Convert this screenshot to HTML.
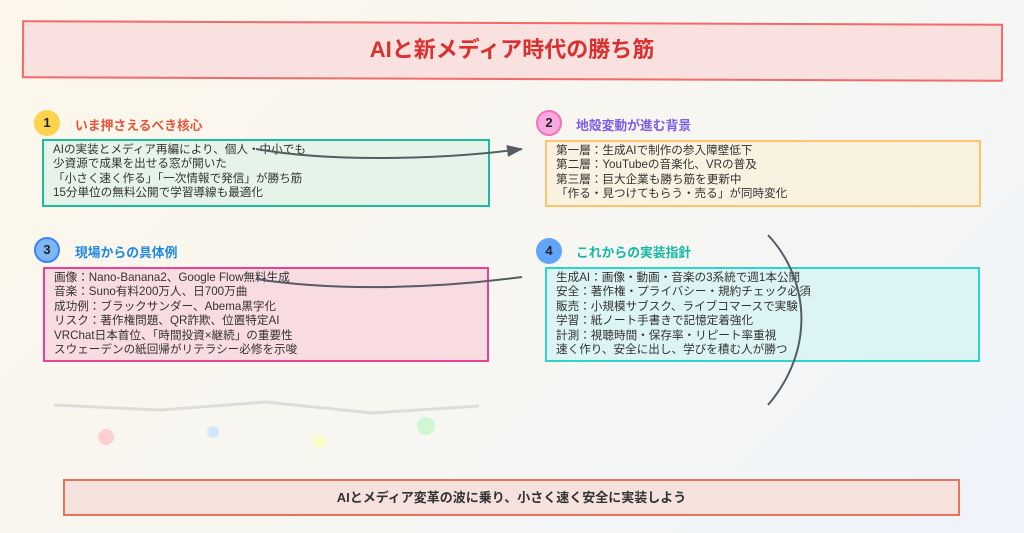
<!DOCTYPE html>
<html><head><meta charset="utf-8"><style>
*{margin:0;padding:0;box-sizing:border-box}
body{width:1024px;height:533px;overflow:hidden;position:relative;font-family:"Liberation Sans","Noto Sans CJK JP",sans-serif;background:linear-gradient(135deg,#fcf7ea 0%,#f7f6f1 50%,#eff4fb 100%)}
.a{position:absolute}
.box{position:absolute;border:2px solid;padding:2px 9px;font-size:11.6px;line-height:14.4px;color:#333}
.c{position:absolute;width:26px;height:26px;border-radius:50%;font-weight:bold;font-size:13px;text-align:center;line-height:26px;color:#222}
.h{position:absolute;font-weight:bold;font-size:12.8px}
</style></head><body>
<div class="a" style="left:22px;top:22px;width:981px;height:58px;border:2px solid #f26b6b;background:#f9e1df;transform:rotate(0.2deg)"></div>
<div class="a" style="left:0;top:32px;width:1024px;text-align:center;font-size:22px;font-weight:bold;color:#d93030">AIと新メディア時代の勝ち筋</div>

<div class="c" style="left:34px;top:110px;background:#fcd34d">1</div>
<div class="h" style="left:75px;top:115px;color:#e4573d">いま押さえるべき核心</div>
<div class="box" style="left:42px;top:139px;width:448px;height:68px;border-color:#1abc9c;background:#e6f3e8">AIの実装とメディア再編により、個人・中小でも<br>少資源で成果を出せる窓が開いた<br>「小さく速く作る」「一次情報で発信」が勝ち筋<br>15分単位の無料公開で学習導線も最適化</div>

<div class="c" style="left:536px;top:110px;background:#f9a8e0;border:2px solid #f472b6;line-height:22px">2</div>
<div class="h" style="left:576px;top:115px;color:#7c5ce8">地殻変動が進む背景</div>
<div class="box" style="left:545px;top:140px;width:436px;height:67px;border-color:#ffc36b;background:#faf2e1">第一層：生成AIで制作の参入障壁低下<br>第二層：YouTubeの音楽化、VRの普及<br>第三層：巨大企業も勝ち筋を更新中<br>「作る・見つけてもらう・売る」が同時変化</div>

<div class="c" style="left:34px;top:237px;background:#7cb8f5;border:2px solid #3b82f6;line-height:22px">3</div>
<div class="h" style="left:75px;top:242px;color:#1e88e5">現場からの具体例</div>
<div class="box" style="left:43px;top:267px;width:446px;height:95px;border-color:#e84393;background:#f9dce2">画像：Nano-Banana2、Google Flow無料生成<br>音楽：Suno有料200万人、日700万曲<br>成功例：ブラックサンダー、Abema黒字化<br>リスク：著作権問題、QR詐欺、位置特定AI<br>VRChat日本首位、「時間投資×継続」の重要性<br>スウェーデンの紙回帰がリテラシー必修を示唆</div>

<div class="c" style="left:536px;top:238px;background:#60a5fa">4</div>
<div class="h" style="left:576px;top:242px;color:#14b8a6">これからの実装指針</div>
<div class="box" style="left:545px;top:267px;width:435px;height:95px;border-color:#2dd4c8;background:#ddf4f4">生成AI：画像・動画・音楽の3系統で週1本公開<br>安全：著作権・プライバシー・規約チェック必須<br>販売：小規模サブスク、ライブコマースで実験<br>学習：紙ノート手書きで記憶定着強化<br>計測：視聴時間・保存率・リピート率重視<br>速く作り、安全に出し、学びを積む人が勝つ</div>

<svg class="a" style="left:0;top:0" width="1024" height="533">
<defs><marker id="ar" markerWidth="16" markerHeight="12" refX="15" refY="6" orient="auto" markerUnits="userSpaceOnUse"><path d="M0,0 L16,6 L0,12 Z" fill="#555c63"/></marker></defs>
<path d="M256,149 C330,162 440,160 522,149" fill="none" stroke="#555c63" stroke-width="2" marker-end="url(#ar)"/>
<path d="M256,279 C340,292 440,288 522,277" fill="none" stroke="#555c63" stroke-width="2"/>
<path d="M768,235 C810,280 815,350 768,405" fill="none" stroke="#555c63" stroke-width="2"/>
<polyline points="54,405 160,410 266,402 372,413 479,406" fill="none" stroke="#ddd" stroke-width="3"/>
<ellipse cx="106" cy="437" rx="8" ry="8" fill="#ffd0d0"/>
<ellipse cx="213" cy="432" rx="6" ry="6" fill="#d3e8fb"/>
<ellipse cx="319" cy="442" rx="7" ry="7" fill="#fbfbc8"/>
<ellipse cx="426" cy="426" rx="9" ry="9" fill="#cff7d2"/>
</svg>

<div class="a" style="left:63px;top:479px;width:897px;height:37px;border:2px solid #e8735a;background:#f6e2dd;text-align:center;line-height:33px;font-size:13px;font-weight:bold;color:#333">AIとメディア変革の波に乗り、小さく速く安全に実装しよう</div>
</body></html>
